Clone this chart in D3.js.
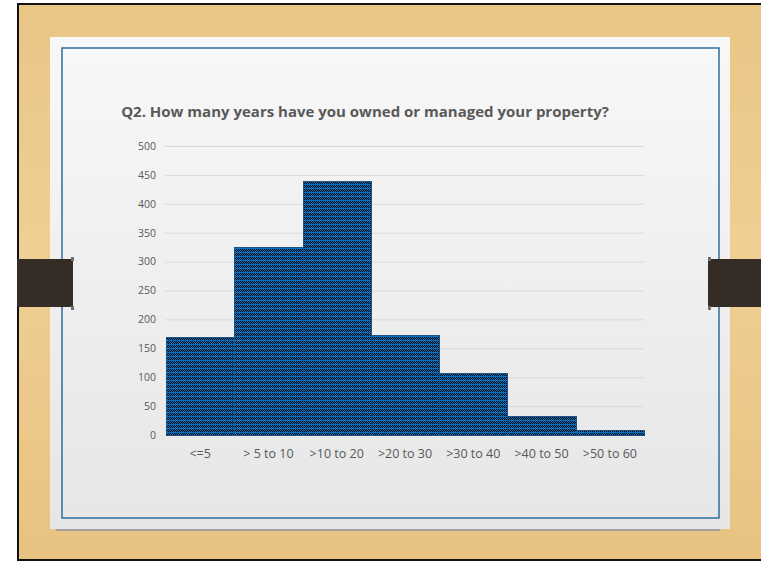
<!DOCTYPE html>
<html>
<head>
<meta charset="utf-8">
<script src="https://cdn.jsdelivr.net/npm/d3@7"></script>
<style>
  html, body { margin: 0; padding: 0; background: #ffffff; }
  svg { display: block; }
  .tick text { font-family: "Open Sans", sans-serif; fill: #595959; }
</style>
</head>
<body>
<svg width="761" height="562"></svg>
<script>
// Data
const categories = ["<=5", "> 5 to 10", ">10 to 20", ">20 to 30", ">30 to 40", ">40 to 50", ">50 to 60"];
const counts = [169, 325, 440, 173, 107, 33, 9];
const yTicks = [0, 50, 100, 150, 200, 250, 300, 350, 400, 450, 500];
const title = "Q2. How many years have you owned or managed your property?";

const svg = d3.select("svg");
const defs = svg.append("defs");

// Wood background
const wood = defs.append("linearGradient").attr("id", "wood")
  .attr("x1", 0).attr("y1", 0).attr("x2", 0).attr("y2", 1);
wood.append("stop").attr("offset", "0%").attr("stop-color", "#e9c686");
wood.append("stop").attr("offset", "45%").attr("stop-color", "#f0cf94");
wood.append("stop").attr("offset", "100%").attr("stop-color", "#e8c280");

// Paper panel
const paper = defs.append("linearGradient").attr("id", "paper")
  .attr("x1", 0).attr("y1", 0).attr("x2", 0).attr("y2", 1);
paper.append("stop").attr("offset", "0%").attr("stop-color", "#f8f8f8");
paper.append("stop").attr("offset", "100%").attr("stop-color", "#e6e6e6");

// slide frame
svg.append("rect").attr("x", 17).attr("y", 3).attr("width", 744).attr("height", 558).attr("fill", "#111");
svg.append("rect").attr("x", 19).attr("y", 5).attr("width", 742).attr("height", 554).attr("fill", "url(#wood)");

// panel shadow + panel
svg.append("rect").attr("x", 56).attr("y", 529).attr("width", 664).attr("height", 2).attr("fill", "#a0a0a0");
svg.append("rect").attr("x", 50).attr("y", 37).attr("width", 680).attr("height", 492).attr("fill", "url(#paper)");

// blue inner frame
svg.append("rect").attr("x", 62).attr("y", 48).attr("width", 657).attr("height", 470)
  .attr("fill", "none").attr("stroke", "#2f6e9e").attr("stroke-width", 1.5);

// side tabs
[[17, 56], [708, 53]].forEach(([tx, tw]) => {
  svg.append("rect").attr("x", tx).attr("y", 259).attr("width", tw).attr("height", 48).attr("fill", "#352c25");
});
[[71, 257], [71, 306], [708, 257], [708, 306]].forEach(([px, py]) => {
  svg.append("rect").attr("x", px).attr("y", py).attr("width", 3).attr("height", 4).attr("fill", "#6e6e6e");
});

// chart
const x = d3.scaleBand().domain(categories).range([166, 644]).padding(0);
const y = d3.scaleLinear().domain([0, 500]).range([435, 146]);

svg.append("text")
  .attr("x", 365).attr("y", 117)
  .attr("text-anchor", "middle")
  .attr("font-family", "Open Sans, sans-serif")
  .attr("font-weight", "bold")
  .attr("font-size", 15)
  .attr("fill", "#595959")
  .text(title);

const yAxis = svg.append("g")
  .attr("transform", "translate(165,0)")
  .call(d3.axisLeft(y).tickValues(yTicks).tickSize(-(644 - 165)).tickPadding(9));
yAxis.select(".domain").remove();
yAxis.selectAll(".tick line").attr("stroke", "#d9d9d9").attr("stroke-width", 1);
yAxis.selectAll(".tick text").attr("font-size", 10.5).attr("fill", "#666");

const bx = (d, i) => Math.round(x(categories[i]));
const bw = (d, i) => Math.round(x(categories[i]) + x.bandwidth()) - Math.round(x(categories[i]));
const by = d => Math.round(y(d));
const bh = d => y(0) - Math.round(y(d));

// clip made of the bars, used for the checker texture
defs.append("clipPath").attr("id", "barClip")
  .selectAll("rect")
  .data(counts)
  .join("rect")
  .attr("x", bx).attr("y", by).attr("width", bw).attr("height", bh);

const bars = svg.append("g").attr("shape-rendering", "crispEdges");
bars.selectAll("rect.base")
  .data(counts)
  .join("rect")
  .attr("class", "base")
  .attr("x", bx).attr("y", by).attr("width", bw).attr("height", bh)
  .attr("fill", "#0a72c4");

// checker texture: dashed pixel rows, blue line every 4th row
const xStart = x.range()[0], xEnd = x.range()[1];
const yTop = Math.round(y(d3.max(counts))), yBottom = y(0);
const rows = d3.range(yTop, yBottom).filter(r => (r - yTop) % 4 !== 3);
bars.append("g").attr("clip-path", "url(#barClip)")
  .selectAll("line")
  .data(rows)
  .join("line")
  .attr("x1", xStart).attr("x2", xEnd)
  .attr("y1", r => r + 0.5).attr("y2", r => r + 0.5)
  .attr("stroke", "#000")
  .attr("stroke-width", 1)
  .attr("stroke-dasharray", "1 1")
  .attr("stroke-dashoffset", r => (r - yTop) % 4 === 1 ? 1 : 0);

bars.selectAll("rect.edge")
  .data(counts)
  .join("rect")
  .attr("class", "edge")
  .attr("x", bx).attr("y", by).attr("width", bw).attr("height", bh)
  .attr("fill", "none")
  .attr("stroke", "#1d5283")
  .attr("stroke-width", 1);

const xAxis = svg.append("g")
  .attr("transform", "translate(0,435)")
  .call(d3.axisBottom(x).tickSize(0).tickPadding(14));
xAxis.select(".domain").remove();
xAxis.selectAll(".tick text").attr("font-size", 12.5);
</script>
</body>
</html>
